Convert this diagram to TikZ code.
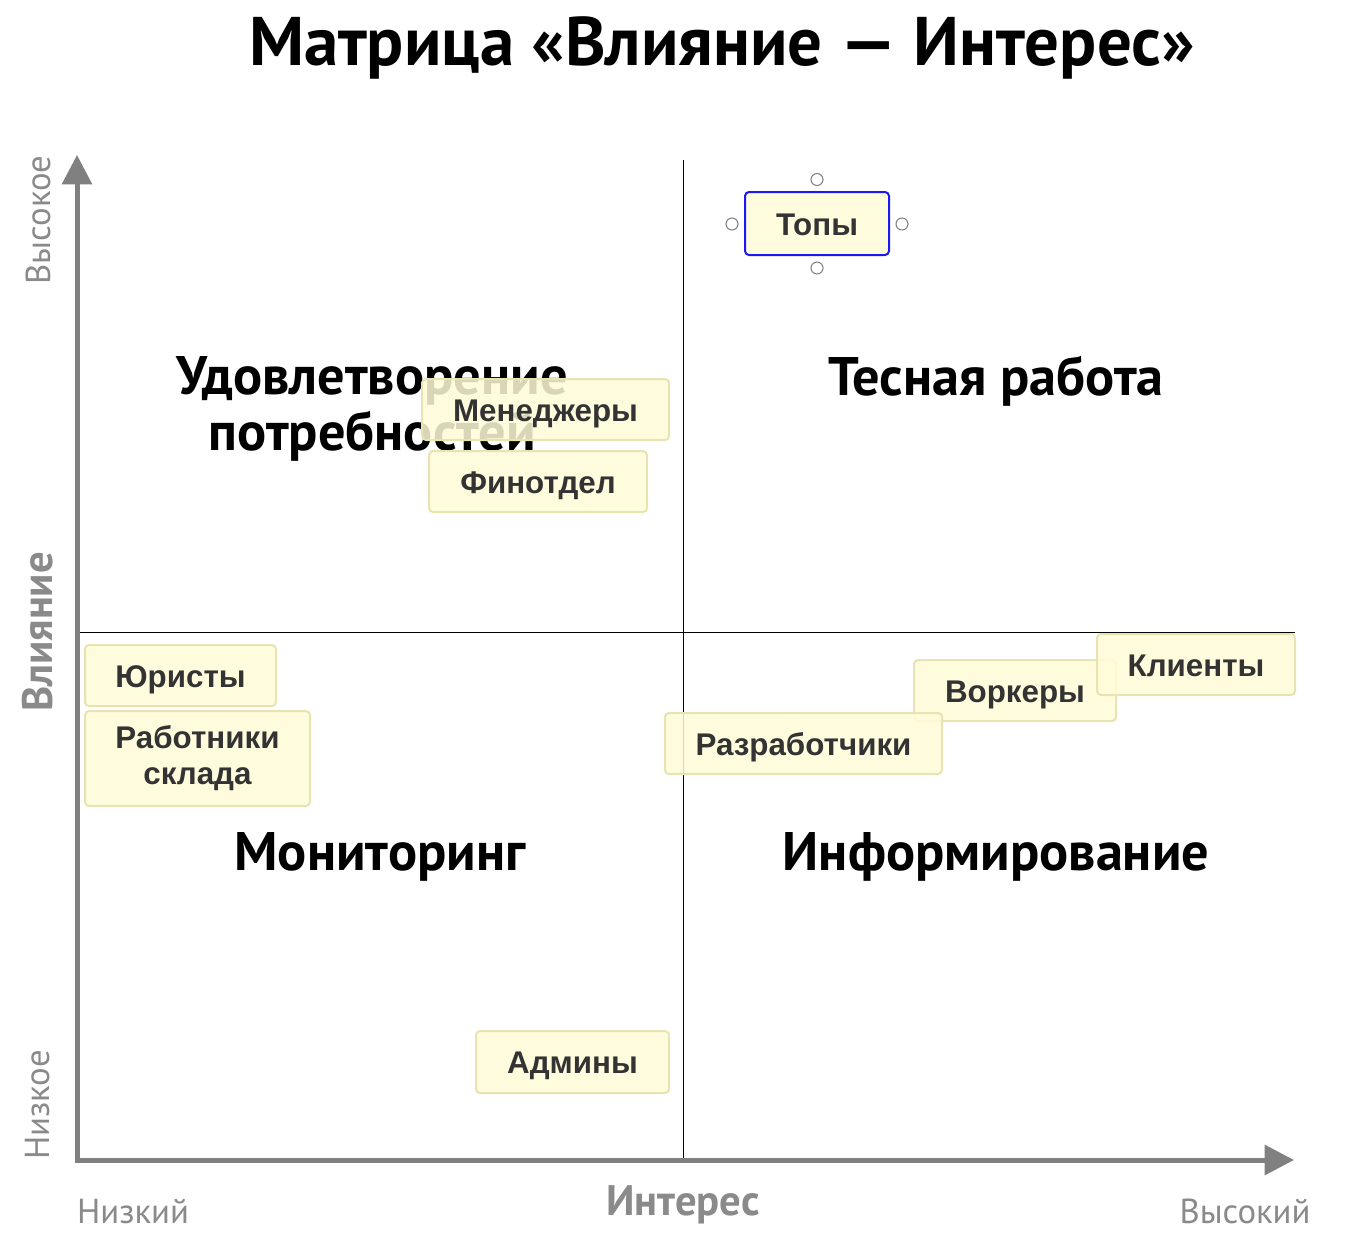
\documentclass[tikz,border=0pt]{standalone}
\usepackage{fontspec}
\setmainfont{PT Sans}
\newfontfamily\notefont{Liberation Sans}
\usetikzlibrary{arrows.meta}
\definecolor{axisgray}{HTML}{808080}
\definecolor{labelgray}{HTML}{8A8A8A}
\definecolor{notefill}{HTML}{FFFCD9}
\definecolor{noteborder}{HTML}{E8E3B3}
\definecolor{notetext}{HTML}{333333}
\definecolor{selblue}{HTML}{1A1AF0}
\tikzset{
  note/.style={draw=noteborder, line width=1.5pt, fill=notefill, fill opacity=0.85, text opacity=1,
    rounded corners=3pt, font=\notefont\bfseries\fontsize{23.5}{27}\selectfont, text=notetext, align=center, inner sep=0pt},
  oneline/.style={text height=19pt, text depth=1.5pt},
  quad/.style={font=\bfseries\fontsize{40.7}{41.5}\selectfont, text=black, align=center},
  axlbl/.style={font=\fontsize{26}{30}\selectfont, text=labelgray},
  axname/.style={font=\bfseries\fontsize{32}{36}\selectfont, text=labelgray},
  handle/.style={circle, draw=axisgray, fill=white, line width=0.8pt, minimum size=9pt, inner sep=0pt},
  axis/.style={draw=axisgray, line width=3.75pt, -{Triangle[width=22pt,length=22pt]}},
  divider/.style={draw=black, line width=0.75pt}
}
\begin{document}
\begin{tikzpicture}[x=0.75pt,y=-0.75pt]
\useasboundingbox[fill=white] (0,0) rectangle (1360,1242);
% title
\node[font=\bfseries\fontsize{51.6}{60}\selectfont] (title) at (722,48) {Матрица «Влияние — Интерес»};
% dividers
\coordinate (vtop) at (683,160);
\coordinate (vbot) at (683,1160);
\coordinate (hl) at (75,632);
\coordinate (hr) at (1295,632);
\draw[divider] (vtop) -- (vbot);
\draw[divider] (hl) -- (hr);
% axes
\coordinate (ytip) at (77,155);
\coordinate (xtip) at (1294,1160);
\coordinate (ystart) at (77,1162);
\coordinate (xstart) at (75,1160);
\draw[axis] (ystart) -- (ytip);
\draw[axis] (xstart) -- (xtip);
% axis labels
\node[axlbl, rotate=90] (yhigh) at (38,220) {Высокое};
\node[axlbl, rotate=90] (ylow) at (38,1105) {Низкое};
\node[axname, rotate=90] (yname) at (38,632) {Влияние};
\node[axlbl] (xlow) at (133,1211) {Низкий};
\node[axname] (xname) at (683,1205) {Интерес};
\node[axlbl] (xhigh) at (1245,1211) {Высокий};
% quadrant labels
\node[quad] (q1) at (372,409) {Удовлетворение\\потребностей};
\node[quad] (q2) at (996,381) {Тесная работа};
\node[quad] (q3) at (380,857) {Мониторинг};
\node[quad] (q4) at (996,857) {Информирование};
% notes
\node[note, oneline, minimum width=185.25pt, minimum height=45.75pt] (men) at (545.5,409.5) {Менеджеры};
\node[note, oneline, minimum width=163.5pt, minimum height=45.75pt] (fin) at (538,481.5) {Финотдел};
\node[note, oneline, minimum width=143.25pt, minimum height=45.75pt] (yur) at (180.5,675.5) {Юристы};
\node[note, minimum width=168.75pt, minimum height=71.25pt] (rab) at (197.5,758.5) {\raisebox{-2pt}{Работники}\\\raisebox{-2pt}{склада}};
\node[note, oneline, minimum width=151.5pt, minimum height=45.75pt] (vork) at (1015,690.5) {Воркеры};
\node[note, oneline, minimum width=148.5pt, minimum height=45.75pt] (kli) at (1196,664.5) {Клиенты};
\node[note, oneline, minimum width=207.75pt, minimum height=45.75pt] (razr) at (803.5,743.5) {Разработчики};
\node[note, oneline, minimum width=144.75pt, minimum height=46.5pt] (adm) at (572.5,1062) {Админы};
\node[note, oneline, draw=selblue, minimum width=108pt, minimum height=47.25pt] (top) at (817,223.5) {Топы};
% selection handles
\node[handle] (hn) at (817,179.5) {};
\node[handle] (hs) at (817,268) {};
\node[handle] (hw) at (732,224) {};
\node[handle] (he) at (902,224) {};
\end{tikzpicture}
\end{document}
